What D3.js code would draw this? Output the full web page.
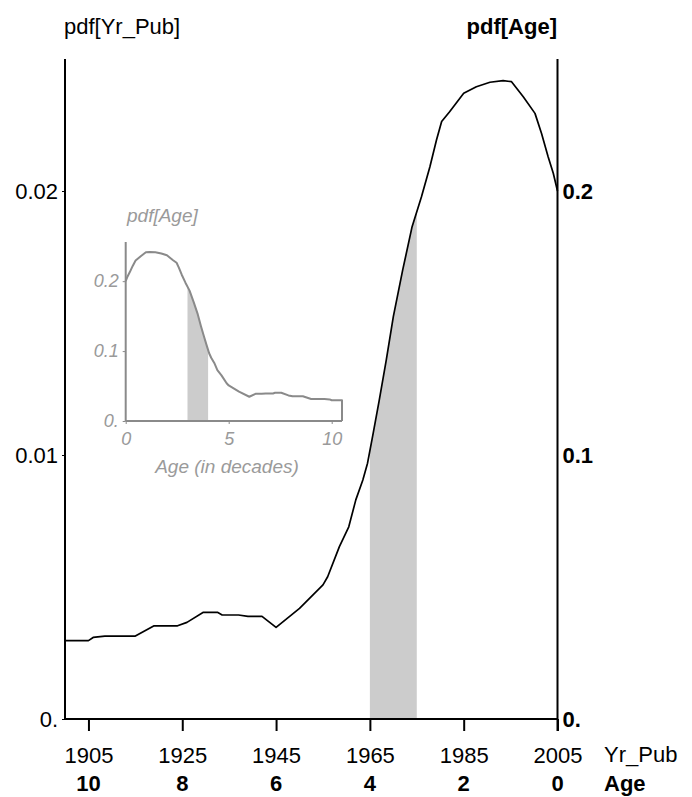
<!DOCTYPE html>
<html lang="en">

<head>
  <meta charset="UTF-8" />
  <script src="https://d3js.org/d3.v7.min.js"></script>
  <title>pdf[Yr_Pub] and pdf[Age]</title>
  <style>
    body { margin: 0; background: #fff; }
    text { font-family: "Liberation Sans", Arial, sans-serif; }
  </style>
</head>

<body>
  <svg width="692" height="797"></svg>

  <script>
    const svg = d3.select("svg");

    // publication year density
    const years = [1900, 1905, 1906, 1908.5, 1915, 1919, 1924, 1926, 1929.5, 1932.5,
      1933.5, 1937, 1939, 1942, 1945, 1950, 1955, 1956, 1958.5, 1960.5,
      1962, 1963.5, 1964.5, 1965.7, 1967, 1968.5, 1970, 1972, 1974, 1976,
      1977.8, 1979.2, 1980.3, 1982, 1985, 1987.7, 1990.6, 1993.4, 1995.2, 1997.7,
      2000.2, 2001.6, 2003, 2004.1, 2005];
    const pdfYr = [0.00297, 0.00297, 0.00309, 0.00314, 0.00314, 0.00353, 0.00353, 0.00366, 0.00404, 0.00404,
      0.00394, 0.00394, 0.00389, 0.00389, 0.00347, 0.00419, 0.00508, 0.00539, 0.00653, 0.00728,
      0.0083, 0.00905, 0.00969, 0.01082, 0.01208, 0.0136, 0.01524, 0.01701, 0.01865, 0.01978,
      0.02092, 0.02193, 0.02263, 0.023, 0.0237, 0.02395, 0.02412, 0.02418, 0.02414, 0.02357,
      0.02294, 0.02218, 0.0213, 0.02067, 0.02];

    const yearTicks = [1905, 1925, 1945, 1965, 1985, 2005];
    const leftTicks = [0, 0.01, 0.02];
    const rightTicks = [0, 0.1, 0.2];
    const insetXTicks = [0, 5, 10];
    const insetYTicks = [0, 0.1, 0.2];
    const shadeYears = [1965, 1975];
    const refYear = 2005;

    const data = years.map((d, i) => ({ yr: d, v: pdfYr[i] }));
    // age in decades, pdf scaled by 10
    const ageData = data.map(d => ({ age: (refYear - d.yr) / 10, v: d.v * 10 })).reverse();

    // main scales
    const x = d3.scaleLinear().domain([1900, 2005]).range([65, 557.5]);
    const y = d3.scaleLinear().domain([0, 0.025]).range([719, 59]);
    const yR = d3.scaleLinear().domain([0, 0.25]).range([719, 59]);

    const main = svg.append("g");

    // shaded band under the curve
    main.append("clipPath").attr("id", "band")
      .append("rect")
      .attr("x", x(shadeYears[0]))
      .attr("width", x(shadeYears[1]) - x(shadeYears[0]))
      .attr("y", 0).attr("height", 797);

    main.append("path")
      .datum(data)
      .attr("clip-path", "url(#band)")
      .attr("fill", "#cccccc")
      .attr("d", d3.area().x(d => x(d.yr)).y0(y(0)).y1(d => y(d.v)));

    // curve
    main.append("path")
      .datum(data)
      .attr("fill", "none")
      .attr("stroke", "#000")
      .attr("stroke-width", 1.7)
      .attr("stroke-linejoin", "round")
      .attr("d", d3.line().x(d => x(d.yr)).y(d => y(d.v)));

    // axis lines
    main.append("line").attr("x1", x(1900)).attr("x2", x(1900)).attr("y1", 59).attr("y2", 719)
      .attr("stroke", "#000").attr("stroke-width", 2);
    main.append("line").attr("x1", x(2005)).attr("x2", x(2005)).attr("y1", 59).attr("y2", 731)
      .attr("stroke", "#000").attr("stroke-width", 2);
    main.append("line").attr("x1", x(1900)).attr("x2", x(2005)).attr("y1", 719).attr("y2", 719)
      .attr("stroke", "#000").attr("stroke-width", 2);

    // bottom ticks + year labels
    const xAxis = main.append("g")
      .attr("transform", `translate(0,${y(0)})`)
      .call(d3.axisBottom(x).tickValues(yearTicks).tickSize(12).tickPadding(16).tickFormat(d3.format("d")));
    xAxis.select(".domain").remove();
    xAxis.selectAll("line").attr("stroke-width", 2);
    xAxis.selectAll("text").attr("font-size", 22).attr("fill", "#000");

    // age labels under the years
    main.selectAll(".age")
      .data(yearTicks)
      .enter()
      .append("text")
      .attr("x", d => x(d))
      .attr("y", 791)
      .attr("text-anchor", "middle")
      .attr("font-size", 22)
      .attr("font-weight", "bold")
      .text(d => (refYear - d) / 10);

    main.append("text").attr("x", 604).attr("y", 762).attr("font-size", 22).text("Yr_Pub");
    main.append("text").attr("x", 604).attr("y", 791).attr("font-size", 22).attr("font-weight", "bold").text("Age");

    // left axis
    const yAxis = main.append("g")
      .attr("transform", `translate(${x(1900)},0)`)
      .call(d3.axisLeft(y).tickValues(leftTicks).tickSize(3).tickPadding(4)
        .tickFormat(d => d === 0 ? "0." : d3.format(".2f")(d)));
    yAxis.select(".domain").remove();
    yAxis.selectAll("text").attr("font-size", 22).attr("fill", "#000");

    // right axis
    const yAxisR = main.append("g")
      .attr("transform", `translate(${x(2005)},0)`)
      .call(d3.axisRight(yR).tickValues(rightTicks).tickSize(0).tickPadding(5)
        .tickFormat(d => d === 0 ? "0." : d3.format(".1f")(d)));
    yAxisR.select(".domain").remove();
    yAxisR.selectAll("text").attr("font-size", 22).attr("font-weight", "bold").attr("fill", "#000");

    // titles
    main.append("text").attr("x", 64).attr("y", 34).attr("font-size", 22).text("pdf[Yr_Pub]");
    main.append("text").attr("x", 557).attr("y", 34).attr("font-size", 22)
      .attr("font-weight", "bold").attr("text-anchor", "end").text("pdf[Age]");

    // ---- inset: pdf of age in decades ----
    const grey = "#8a8a8a";
    const greyText = "#9a9a9a";
    const ix = d3.scaleLinear().domain([0, 10.5]).range([125.7, 342]);
    const iy = d3.scaleLinear().domain([0, 0.256]).range([421, 242]);
    const inset = svg.append("g");

    inset.append("clipPath").attr("id", "insetBand")
      .append("rect")
      .attr("x", ix((refYear - shadeYears[1]) / 10))
      .attr("width", ix((refYear - shadeYears[0]) / 10) - ix((refYear - shadeYears[1]) / 10))
      .attr("y", 0).attr("height", 797);

    inset.append("path")
      .datum(ageData)
      .attr("clip-path", "url(#insetBand)")
      .attr("fill", "#cccccc")
      .attr("d", d3.area().x(d => ix(d.age)).y0(iy(0)).y1(d => iy(d.v)));

    // curve, closed down to zero at the far end
    const insetLine = ageData.concat([{ age: ageData[ageData.length - 1].age, v: 0 }]);
    inset.append("path")
      .datum(insetLine)
      .attr("fill", "none")
      .attr("stroke", grey)
      .attr("stroke-width", 2)
      .attr("stroke-linejoin", "round")
      .attr("d", d3.line().x(d => ix(d.age)).y(d => iy(d.v)));

    inset.append("line").attr("x1", ix(0)).attr("x2", ix(0)).attr("y1", 242).attr("y2", 421)
      .attr("stroke", grey).attr("stroke-width", 2);
    inset.append("line").attr("x1", ix(0)).attr("x2", ix(10.5)).attr("y1", 421).attr("y2", 421)
      .attr("stroke", grey).attr("stroke-width", 2);

    const ixAxis = inset.append("g")
      .attr("transform", `translate(0,${iy(0)})`)
      .call(d3.axisBottom(ix).tickValues(insetXTicks).tickSize(3).tickPadding(8));
    ixAxis.select(".domain").remove();
    ixAxis.selectAll("line").attr("stroke", grey);
    ixAxis.selectAll("text").attr("font-size", 18).attr("font-style", "italic").attr("fill", greyText);

    const iyAxis = inset.append("g")
      .attr("transform", `translate(${ix(0)},0)`)
      .call(d3.axisLeft(iy).tickValues(insetYTicks).tickSize(3).tickPadding(4)
        .tickFormat(d => d === 0 ? "0." : d3.format(".1f")(d)));
    iyAxis.select(".domain").remove();
    iyAxis.selectAll("line").attr("stroke", grey);
    iyAxis.selectAll("text").attr("font-size", 18).attr("font-style", "italic").attr("fill", greyText);

    inset.append("text").attr("x", 127).attr("y", 222).attr("font-size", 19)
      .attr("font-style", "italic").attr("fill", greyText).text("pdf[Age]");
    inset.append("text").attr("x", 227).attr("y", 473).attr("font-size", 19)
      .attr("font-style", "italic").attr("fill", greyText).attr("text-anchor", "middle")
      .text("Age (in decades)");
  </script>
</body>

</html>
